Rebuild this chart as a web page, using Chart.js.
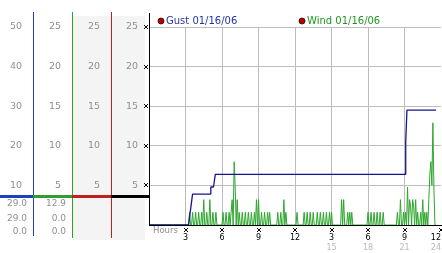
<!DOCTYPE html>
<html><head><meta charset="utf-8">
<script src="https://cdn.jsdelivr.net/npm/chart.js@4/dist/chart.umd.min.js"></script>
<style>html,body{margin:0;padding:0;background:#fff;overflow:hidden}canvas{display:block}</style>
</head><body>
<canvas id="c" width="442" height="253" style="width:442px;height:253px"></canvas>
<script>
// ---- data ----
const xTickLabels  = ['', '3', '6', '9', '12', '3', '6', '9', '12'];
const xTickLabels2 = ['', '', '', '', '', '15', '18', '21', '24'];
const gustLabel = 'Gust 01/16/06';
const windLabel = 'Wind 01/16/06';
const gustHours  = [0, 3.25, 3.58, 5.04, 5.08, 5.30, 5.45, 21.08, 21.10, 21.20, 23.60];
const gustValues = [0, 0,    3.9,  3.9,  4.8,  4.8,  6.4,  6.4,   10.5,  14.5,  14.5];
const windStepHours = 5 / 60;
const windValues = [
  0,0,0,0,0,0,0,0,0,0,0,
  0,0,0,0,0,0,0,0,0,0,0,0,
  0,0,0,0,0,0,0,0,0,0,0,0,
  0,0,0,0,0,1.6,0,0,1.6,0,0,1.6,
  0,0,1.6,0,0,1.6,0,3.2,0,0,1.6,0,
  0,3.2,0,0,1.6,0,0,1.6,0,0,0,
  0,0,0,1.6,0,0,1.6,0,0,1.6,0,1.6,
  3.2,0,8.0,4.8,0,3.2,0,1.6,0,0,1.6,0,
  0,1.6,0,0,1.6,0,0,1.6,0,0,1.6,0,
  3.2,0,3.2,0,0,1.6,0,0,1.6,0,0,1.6,
  0,1.6,0,0,0,0,0,0,0,1.6,0,
  0,1.6,0,0,3.2,0,1.6,0,0,0,0,0,
  0,0,0,0,0,1.6,0,0,0,0,0,0,
  1.6,0,0,1.6,0,0,1.6,0,0,1.6,0,0,
  0,1.6,0,0,1.6,0,0,1.6,0,0,1.6,0,
  0,1.6,0,1.6,0,0,0,0,0,0,0,
  0,0,3.2,0,3.2,0,0,0,1.6,0,1.6,0,
  1.6,0,0,0,0,0,0,0,0,0,0,0,
  0,0,0,0,1.6,0,0,1.6,0,0,1.6,0,
  0,1.6,0,0,1.6,0,0,1.6,0,0,0,0,
  0,0,0,0,0,0,0,0,0,1.6,0,
  0,3.2,0,0,1.6,0,1.6,0,4.8,0,3.2,2.4,
  0,3.2,2.4,0,3.2,0,1.6,0,0,1.6,0,3.2,
  0,1.6,0,1.6,0,3.2,6.4,8.0,5.0,12.9,4.8,0,
  0
];
const summaryCol1 = ['29.0', '29.0', '0.0'];
const summaryCol2 = ['12.9', '0.0', '0.0'];
const markerValue = 3.6;

// ---- styling ----
const FONT = 'DejaVu Sans';
const GRID = '#bdbdbd';
const TICKGRAY = '#8f8f8f';
const GUST_COLOR = '#14148c';
const WIND_COLOR = '#2ea62e';
const GUST_TEXT = '#2333a3';
const WIND_TEXT = '#229622';

function fixW(w) { return s => { s.width = w; s.paddingTop = 0; s.paddingBottom = 0; }; }
function fixH(h) { return s => { s.height = h; s.paddingLeft = 0; s.paddingRight = 0; }; }
function leftAxis(max, step, w, weight) {
  return {
    type: 'linear', position: 'left', min: 0, max: max, weight: weight,
    afterFit: fixW(w),
    grid: { display: false, drawTicks: false },
    border: { display: false },
    ticks: { stepSize: step, padding: 11, color: TICKGRAY, font: { family: FONT, size: 9.5 },
             callback: v => v === 0 ? '' : String(v) }
  };
}

function xmark(ctx, cx, cy) {
  const pts = [[0,0],[3,0],[1,1],[2,1],[1,2],[2,2],[0,3],[3,3]];
  ctx.fillStyle = '#000';
  const x0 = Math.round(cx) - 2, y0 = Math.round(cy) - 2;
  for (const p of pts) ctx.fillRect(x0 + p[0], y0 + p[1], 1, 1);
}

const decor = {
  id: 'decor',
  beforeDraw(chart) {
    const ctx = chart.ctx, s = chart.scales;
    ctx.save();
    ctx.fillStyle = '#fff';
    ctx.fillRect(0, 0, chart.width, chart.height);
    ctx.fillStyle = '#f4f4f4';
    ctx.fillRect(s.c3.left + 1, 16, s.y.right - 4 - (s.c3.left + 1), 224);
    ctx.restore();
  },
  afterDraw(chart) {
    const ctx = chart.ctx, s = chart.scales, a = chart.chartArea;
    ctx.save();
    // column separators
    const vline = (x, y1, y2, col) => { ctx.fillStyle = col; ctx.fillRect(Math.round(x), y1, 1, y2 - y1); };
    vline(s.c1.right, 12, 236, '#1f3fbf');
    vline(s.c2.right, 12, 238, '#2e9e2e');
    vline(s.c3.right, 12, 238, '#c02020');
    vline(a.left, 13, a.bottom, '#000');
    // current-value marker line
    const my = s.y.getPixelForValue(markerValue);
    const hseg = (x1, x2, col) => { ctx.fillStyle = col; ctx.fillRect(x1, Math.round(my) - 1, x2 - x1, 3); };
    hseg(0, s.c1.right, '#1f3fbf');
    hseg(s.c1.right, s.c2.right, '#2e9e2e');
    hseg(s.c2.right, s.c3.right, '#c02020');
    hseg(s.c3.right, a.left, '#000');
    // summary values
    ctx.font = '9px "' + FONT + '"';
    ctx.fillStyle = TICKGRAY;
    ctx.textAlign = 'right';
    ctx.textBaseline = 'middle';
    const rows = [204, 218.5, 232];
    summaryCol1.forEach((t, i) => ctx.fillText(t, s.c1.right - 6, rows[i]));
    summaryCol2.forEach((t, i) => ctx.fillText(t, s.c2.right - 6, rows[i]));
    // tick marks
    s.y.ticks.forEach(t => { if (t.value > 0) xmark(ctx, a.left - 3, s.y.getPixelForValue(t.value)); });
    s.x.ticks.forEach(t => { if (t.value > 0) xmark(ctx, s.x.getPixelForValue(t.value), 230); });
    // Hours label
    ctx.font = '8.5px "' + FONT + '"';
    ctx.textAlign = 'left';
    ctx.fillStyle = TICKGRAY;
    ctx.fillText('Hours', a.left + 4, 231);
    // legend
    const legendX = [a.left + 12, a.left + 153];
    const textCols = [GUST_TEXT, WIND_TEXT];
    chart.data.datasets.forEach((ds, i) => {
      const lx = legendX[i], ly = 21;
      ctx.beginPath();
      ctx.arc(lx, ly, 3, 0, Math.PI * 2);
      ctx.fillStyle = '#b40000';
      ctx.fill();
      ctx.lineWidth = 0.8;
      ctx.strokeStyle = '#3a0000';
      ctx.stroke();
      ctx.font = '10px "' + FONT + '"';
      ctx.fillStyle = textCols[i];
      ctx.textAlign = 'left';
      ctx.textBaseline = 'middle';
      ctx.fillText(ds.label, lx + 5, ly);
    });
    ctx.restore();
  }
};

Chart.defaults.font.family = FONT;

new Chart(document.getElementById('c'), {
  type: 'line',
  data: {
    datasets: [
      { label: gustLabel, data: gustHours.map((h, i) => ({ x: h, y: gustValues[i] })),
        borderColor: GUST_COLOR, borderWidth: 1.3, pointRadius: 0, tension: 0, borderJoinStyle: 'bevel', yAxisID: 'y' },
      { label: windLabel, data: windValues.map((v, i) => ({ x: i * windStepHours, y: v })),
        borderColor: WIND_COLOR, borderWidth: 1, pointRadius: 0, tension: 0, borderJoinStyle: 'bevel', yAxisID: 'y' }
    ]
  },
  options: {
    responsive: false, animation: false, devicePixelRatio: 1, events: [],
    layout: { padding: { top: 27, right: 1, left: 0, bottom: 0 } },
    plugins: { legend: { display: false }, tooltip: { enabled: false } },
    scales: {
      x: {
        type: 'linear', position: 'bottom', min: 0, max: 24, afterFit: fixH(16),
        grid: { color: c => (c.tick && (c.tick.value === 0 || c.tick.value === 24)) ? 'rgba(0,0,0,0)' : GRID,
                drawTicks: false, lineWidth: 1 },
        border: { display: true, color: '#000', width: 1 },
        ticks: { stepSize: 3, autoSkip: false, maxRotation: 0, align: 'inner', padding: 8, color: '#000',
                 font: { family: FONT, size: 8 }, callback: (v, i) => xTickLabels[i] }
      },
      x2: {
        type: 'linear', position: 'bottom', min: 0, max: 24, afterFit: fixH(12),
        grid: { display: false, drawTicks: false }, border: { display: false },
        ticks: { stepSize: 3, autoSkip: false, maxRotation: 0, align: 'inner', padding: 2, color: '#b8b8b8',
                 font: { family: FONT, size: 8 }, callback: (v, i) => xTickLabels2[i] }
      },
      c1: leftAxis(50, 10, 33, 3),
      c2: leftAxis(25, 5, 39, 2),
      c3: leftAxis(25, 5, 39, 1),
      y: {
        type: 'linear', position: 'left', min: 0, max: 25, weight: 0, afterFit: fixW(38),
        grid: { color: c => (c.tick && c.tick.value === 0) ? 'rgba(0,0,0,0)' : GRID, drawTicks: false },
        border: { display: true, color: '#000', width: 1 },
        ticks: { stepSize: 5, padding: 11, color: TICKGRAY, font: { family: FONT, size: 9.5 },
                 callback: v => v === 0 ? '' : String(v) }
      }
    }
  },
  plugins: [decor]
});
</script>
</body></html>
